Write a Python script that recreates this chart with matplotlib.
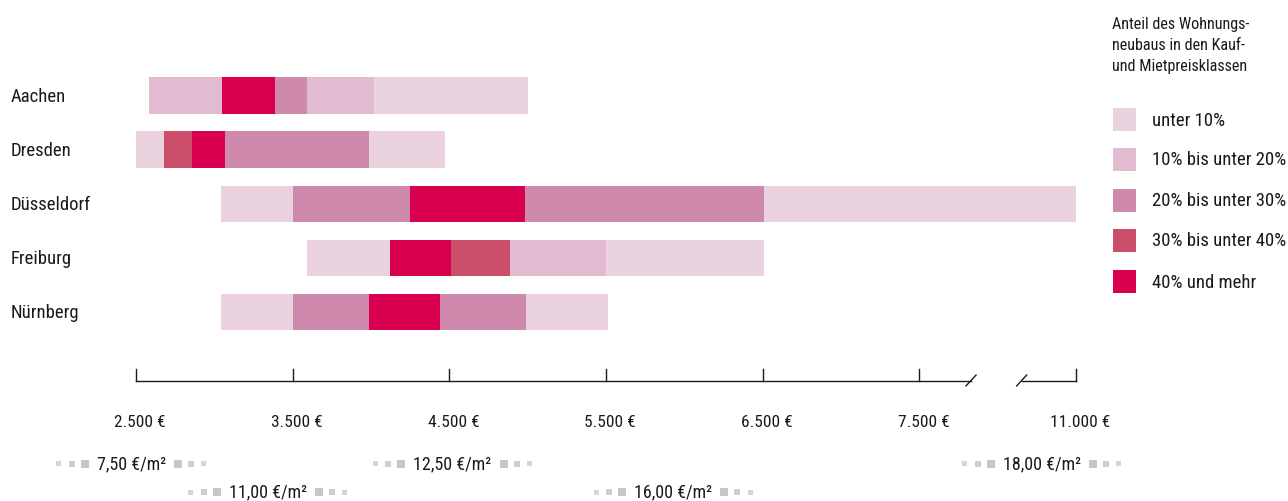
import matplotlib.pyplot as plt
import matplotlib.patches as mpatches
import matplotlib.transforms as mtransforms
from matplotlib import font_manager
import numpy as np

# the original uses a condensed grotesque; take a narrow family if one is there
installed = [(f.name, f.stretch) for f in font_manager.fontManager.ttflist]
font_name = "Roboto"
font_stretch = "normal"
for name in ["Liberation Sans Narrow", "Roboto Condensed", "Open Sans Condensed", "Noto Sans Condensed"]:
    if any(n == name for n, s in installed):
        font_name = name
        break
else:
    if any(n == "DejaVu Sans" and s in ("condensed", "semi-condensed", 600, 700) for n, s in installed):
        font_name = "DejaVu Sans"
        font_stretch = "condensed"
plt.rcParams['font.family'] = [font_name, 'DejaVu Sans']
plt.rcParams['font.stretch'] = font_stretch

# price classes (share of new housing) and their colours
class_labels = ["unter 10%", "10% bis unter 20%", "20% bis unter 30%",
                "30% bis unter 40%", "40% und mehr"]
class_colors = ["#ead3df", "#e2bbd1", "#ce89ac", "#cb4e6b", "#d8004f"]

cities = ["Aachen", "Dresden", "Düsseldorf", "Freiburg", "Nürnberg"]

# segment edges (purchase price in € per m²) and class index of each segment
aachen_edges = [2580, 3050, 3390, 3590, 4020, 5000]
aachen_classes = [1, 4, 2, 1, 0]
dresden_edges = [2500, 2680, 2860, 3070, 3990, 4470]
dresden_classes = [0, 3, 4, 2, 0]
duesseldorf_edges = [3040, 3500, 4250, 4980, 6510, 11000]
duesseldorf_classes = [0, 2, 4, 2, 0]
freiburg_edges = [3590, 4120, 4510, 4890, 5500, 6510]
freiburg_classes = [0, 4, 3, 1, 0]
nuernberg_edges = [3040, 3500, 3990, 4440, 4990, 5510]
nuernberg_classes = [0, 2, 4, 2, 0]

all_edges = [aachen_edges, dresden_edges, duesseldorf_edges, freiburg_edges, nuernberg_edges]
all_classes = [aachen_classes, dresden_classes, duesseldorf_classes, freiburg_classes, nuernberg_classes]

tick_values = [2500, 3500, 4500, 5500, 6500, 7500, 11000]
tick_labels = ["2.500 €", "3.500 €", "4.500 €", "5.500 €", "6.500 €", "7.500 €", "11.000 €"]

# equivalent rents, placed at a purchase price
rent_labels = ["7,50 €/m²", "11,00 €/m²", "12,50 €/m²", "16,00 €/m²", "18,00 €/m²"]
rent_prices = [2470, 3340, 4520, 5930, 10240]
rent_rows = [0, 1, 0, 1, 0]

legend_title = ["Anteil des Wohnungs-", "neubaus in den Kauf-", "und Mietpreisklassen"]


# broken axis: above 7.500 € the scale is compressed
def fwd(v):
    v = np.asarray(v, dtype=float)
    return np.where(v <= 7500, v, 7500 + (v - 7500) / 3.5)


def inv(x):
    x = np.asarray(x, dtype=float)
    return np.where(x <= 7500, x, 7500 + (x - 7500) * 3.5)


W, H = 1288, 502
scale_fs = 1.0 if font_name != "Roboto" else 0.9
fs_label = 13.5 * scale_fs
fs_tick = 12.5 * scale_fs
fs_rent = 13 * scale_fs
fs_title = 11.6 * scale_fs

fig = plt.figure(figsize=(W / 100, H / 100), dpi=100)
ax = fig.add_axes([136 / W, 1 - 400 / H, 940 / W, 340 / H])
ax.set_xscale('function', functions=(fwd, inv))
ax.set_xlim(2500, 11000)
ax.set_ylim(5.611, -0.685)
ax.axis('off')

txt_color = "#1a1a1a"

for i, (edges, cls) in enumerate(zip(all_edges, all_classes)):
    for k in range(len(cls)):
        ax.barh(i, edges[k + 1] - edges[k], left=edges[k], height=0.685,
                color=class_colors[cls[k]], linewidth=0)

# city names on the left
blend = mtransforms.blended_transform_factory(fig.transFigure, ax.transData)
for i, c in enumerate(cities):
    ax.text(11 / W, i, c, transform=blend, ha='left', va='center',
            fontsize=fs_label, color=txt_color)

# hand made x axis with a break
y_axis = 5.278
y_tick = 5.056
brk_left, brk_right = 8655, 9786
ax.plot([2500, brk_left], [y_axis, y_axis], color=txt_color, lw=1, clip_on=False)
ax.plot([brk_right, 11000], [y_axis, y_axis], color=txt_color, lw=1, clip_on=False)
px = 6000 / 940  # linear units per pixel
for c in (brk_left, brk_right):
    x0 = inv(fwd(c) - 5 * px)
    x1 = inv(fwd(c) + 5 * px)
    ax.plot([x0, x1], [y_axis + 0.09, y_axis - 0.11], color=txt_color, lw=1, clip_on=False)
for v, lab in zip(tick_values, tick_labels):
    ax.plot([v, v], [y_axis, y_tick], color=txt_color, lw=1, clip_on=False)
    ax.text(inv(fwd(v) + 4 * px), 6.02, lab, ha='center', va='center',
            fontsize=fs_tick, color=txt_color, clip_on=False)

# rent equivalents with grey squares on both sides
rent_y = [6.796, 7.315]
sq_off = [12, 25, 38]
sq_size = [8, 6, 5]
sq_col = ["#c6c6c6", "#cdcdcd", "#d5d5d5"]
fig.canvas.draw()
renderer = fig.canvas.get_renderer()
for lab, v, r in zip(rent_labels, rent_prices, rent_rows):
    t = ax.text(v, rent_y[r], lab, ha='center', va='center', fontsize=fs_rent,
                color=txt_color, clip_on=False)
    bb = t.get_window_extent(renderer)
    yc = (bb.y0 + bb.y1) / 2 - 1
    for off, s, col in zip(sq_off, sq_size, sq_col):
        for xc in (bb.x0 - off, bb.x1 + off):
            fig.add_artist(mpatches.Rectangle(((xc - s / 2) / W, (yc - s / 2) / H),
                                              s / W, s / H, color=col,
                                              transform=fig.transFigure, lw=0))

# legend
for line, yc in zip(legend_title, [25, 46, 67]):
    fig.text(1112 / W, 1 - yc / H, line, ha='left', va='center',
             fontsize=fs_title, color=txt_color)
leg_tops = [109, 149, 190, 230, 271]
for top, lab, col in zip(leg_tops, class_labels, class_colors):
    fig.add_artist(mpatches.Rectangle((1113 / W, 1 - (top + 23) / H), 23 / W, 23 / H,
                                      color=col, transform=fig.transFigure, lw=0))
    fig.text(1152 / W, 1 - (top + 11.5) / H, lab, ha='left', va='center',
             fontsize=fs_label, color=txt_color)

fig.savefig("out.png", dpi=100)
